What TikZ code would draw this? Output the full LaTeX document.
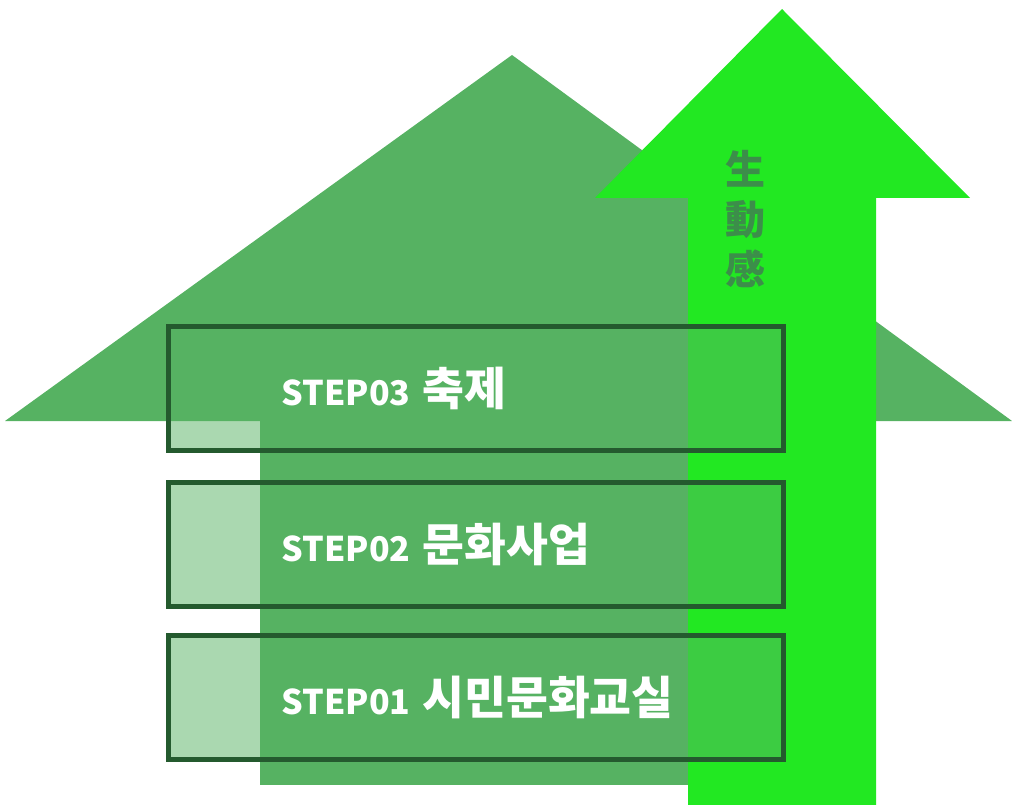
\documentclass[tikz,border=0pt]{standalone}
\usepackage{fontspec}
\newfontfamily\krfont{Noto Sans CJK KR}
\definecolor{housegreen}{HTML}{56B262}
\definecolor{arrowgreen}{HTML}{22E822}
\definecolor{boxborder}{HTML}{245A2E}
\definecolor{labelgreen}{HTML}{3C8E4A}
\newcommand{\steplabel}[2]{{\fontsize{34}{40}\selectfont #1}\hspace{12pt}{\fontsize{45.5}{40}\selectfont #2}}
\tikzset{
  stepbox/.style={draw=boxborder, line width=5pt, fill=housegreen, fill opacity=0.5,
    minimum width=615pt, minimum height=124pt, inner sep=0pt},
  steptext/.style={anchor=west, text=white, font=\krfont\bfseries},
  vlabel/.style={text=labelgreen, font=\krfont\bfseries\fontsize{40}{50}\selectfont, align=center}
}
\begin{document}
\begin{tikzpicture}[x=1pt, y=-1pt]
\useasboundingbox (0,0) rectangle (1012,805);
% house
\fill[housegreen] (5,421) -- (512,55) -- (1012,421) -- cycle;
\fill[housegreen] (260,421) rectangle (688,785);
% arrow
\fill[arrowgreen] (688,805) -- (688,198) -- (595,198) -- (782,9) -- (970,198) -- (876,198) -- (876,805) -- cycle;
\node[vlabel] (growth) at (745,219) {生\\動\\感};
% steps
\node[stepbox] (step3) at (476,388) {};
\node[stepbox] (step2) at (476,544) {};
\node[stepbox] (step1) at (476,697) {};
\node[steptext] (label3) at ([xshift=112pt]step3.west) {\steplabel{STEP03}{축제}};
\node[steptext] (label2) at ([xshift=112pt]step2.west) {\steplabel{STEP02}{문화사업}};
\node[steptext] (label1) at ([xshift=112pt]step1.west) {\steplabel{STEP01}{시민문화교실}};
\end{tikzpicture}
\end{document}
